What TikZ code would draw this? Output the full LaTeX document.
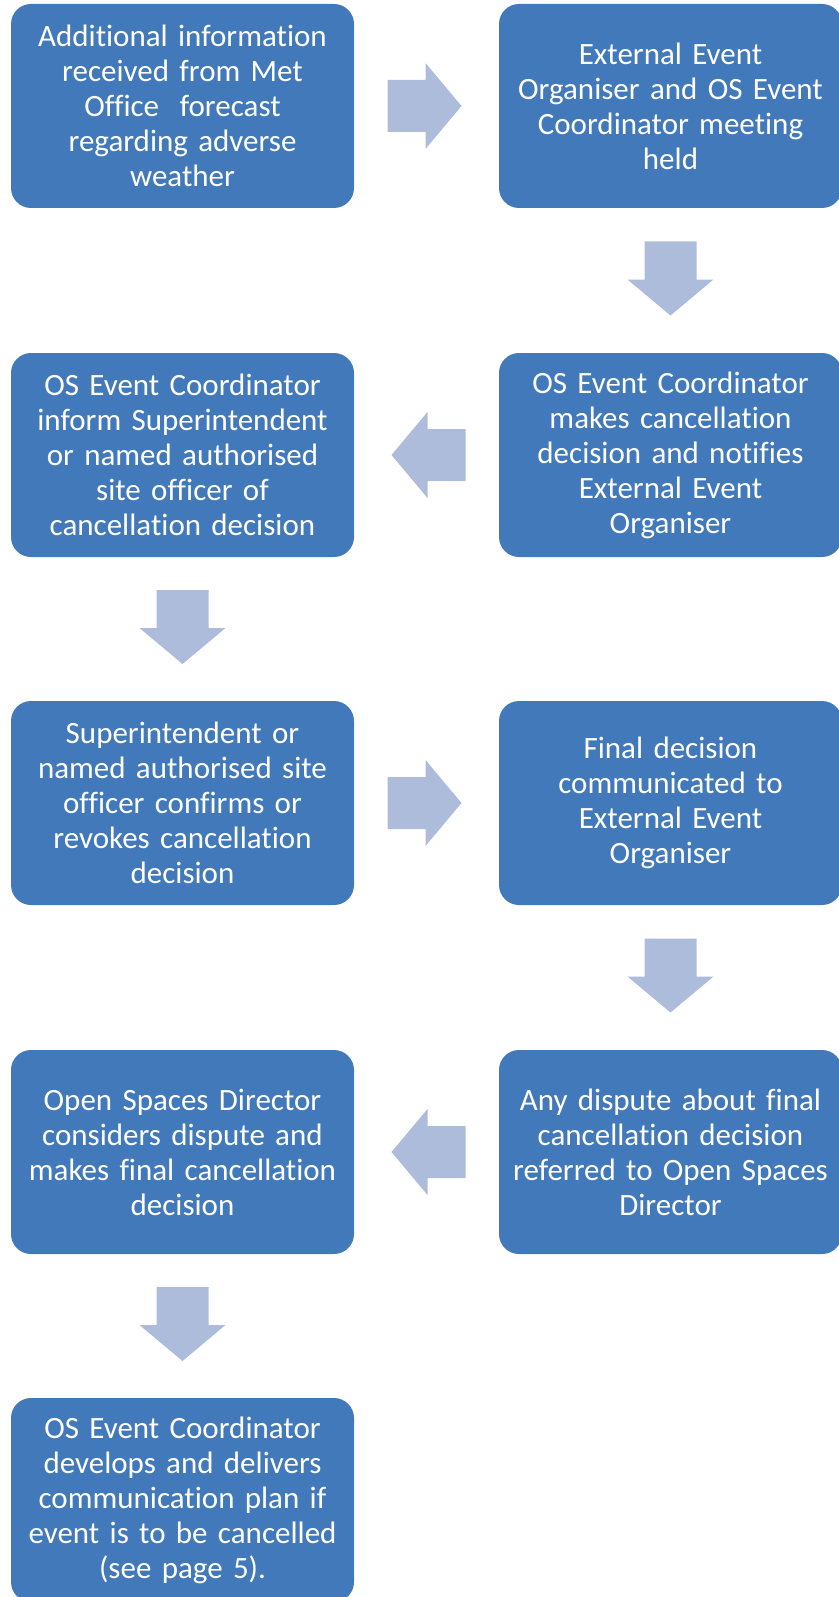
\documentclass[tikz,border=0pt]{standalone}
\usepackage{fontspec}
\setmainfont{Carlito}[Ligatures=NoCommon]
\usetikzlibrary{calc}
\definecolor{sblue}{HTML}{4279BA}
\definecolor{sarrow}{HTML}{ADBCDB}
\tikzset{
  stepbox/.style   = {fill=sblue, rounded corners=20pt, minimum width=343pt,
                      minimum height=204pt, text width=330pt, align=center,
                      text=white, inner sep=0pt,
                      font=\fontsize{31}{35}\selectfont},
  arrowfill/.style = {fill=sarrow},
}
% block arrow: #1 = centre, #2 = direction
\newcommand{\flowarrow}[2]{%
  \fill[arrowfill, shift={#1}, rotate=#2]
    (-37,-26) -- (1,-26) -- (1,-43) -- (37,0) -- (1,43) -- (1,26) -- (-37,26) -- cycle;}

\begin{document}
\begin{tikzpicture}[x=1pt, y=1pt]
\useasboundingbox (0,0) rectangle (838,-1597);
% ---------- steps ----------
\node[stepbox] (info) at (182.5,-106) {Additional information\\received from Met\\Office\ \ forecast\\regarding adverse\\weather};
\node[stepbox] (meet) at (670.5,-106) {External Event\\Organiser and OS Event\\Coordinator meeting\\held};
\node[stepbox] (decide) at (670.5,-455) {OS Event Coordinator\\makes cancellation\\decision and notifies\\External Event\\Organiser};
\node[stepbox] (inform) at (182.5,-455) {OS Event Coordinator\\inform Superintendent\\or named authorised\\site officer of\\cancellation decision};
\node[stepbox] (confirm) at (182.5,-803) {Superintendent or\\named authorised site\\officer confirms or\\revokes cancellation\\decision};
\node[stepbox] (final) at (670.5,-803) {Final decision\\communicated to\\External Event\\Organiser};
\node[stepbox] (dispute) at (670.5,-1152) {Any dispute about final\\cancellation decision\\referred to Open Spaces\\Director};
\node[stepbox] (director) at (182.5,-1152) {Open Spaces Director\\considers dispute and\\makes final cancellation\\decision};
\node[stepbox] (plan) at (182.5,-1500) {OS Event Coordinator\\develops and delivers\\communication plan if\\event is to be cancelled\\(see page 5).};
% ---------- arrows ----------
\coordinate (m1) at ($(info.east)!0.5!(meet.west)+(-2,0)$);
\coordinate (m2) at ($(meet.south)!0.5!(decide.north)+(0,2)$);
\coordinate (m3) at ($(decide.west)!0.5!(inform.east)+(2,0)$);
\coordinate (m4) at ($(inform.south)!0.5!(confirm.north)+(0,2)$);
\coordinate (m5) at ($(confirm.east)!0.5!(final.west)+(-2,0)$);
\coordinate (m6) at ($(final.south)!0.5!(dispute.north)+(0,2)$);
\coordinate (m7) at ($(dispute.west)!0.5!(director.east)+(2,0)$);
\coordinate (m8) at ($(director.south)!0.5!(plan.north)+(0,2)$);
\flowarrow{(m1)}{0}
\flowarrow{(m2)}{270}
\flowarrow{(m3)}{180}
\flowarrow{(m4)}{270}
\flowarrow{(m5)}{0}
\flowarrow{(m6)}{270}
\flowarrow{(m7)}{180}
\flowarrow{(m8)}{270}
\end{tikzpicture}
\end{document}
